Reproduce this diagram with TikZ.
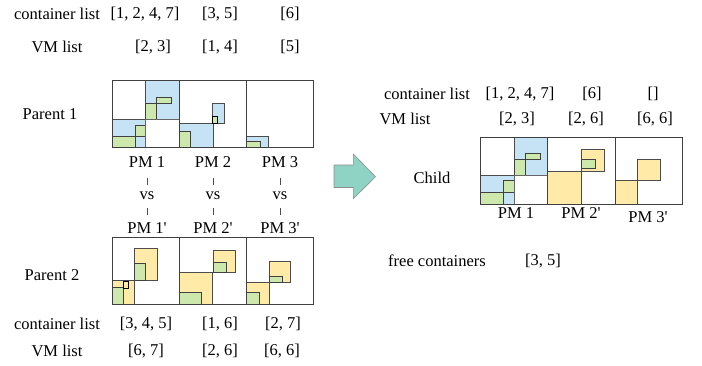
\documentclass[tikz,border=0pt]{standalone}
\usepackage{fontspec}
\setmainfont{Liberation Serif}
\begin{document}
\begin{tikzpicture}[x=1pt,y=-1pt,
  lbl/.style={font=\fontsize{16.5}{18}\selectfont, inner sep=1pt},
  pmbox/.style={draw=black!75, line width=0.9pt},
  vmblue/.style={fill=vmb, draw=black!70, line width=1pt},
  vmyel/.style={fill=vmy, draw=black!70, line width=1pt},
  ctgreen/.style={fill=ctg, draw=black!75, line width=1pt},
  emptycell/.style={fill=white, draw=black!60, line width=1pt},
  vsup/.style={draw=black!70, line width=0.6pt, shorten <=9pt, shorten >=6pt},
  vsdown/.style={draw=black!70, line width=0.6pt, shorten <=7pt, shorten >=6pt},
  bigarrow/.style={fill=arrowfill, draw=black!45, line width=0.6pt}]
\definecolor{vmb}{RGB}{197,227,245}
\definecolor{vmy}{RGB}{255,234,168}
\definecolor{ctg}{RGB}{204,232,172}
\definecolor{arrowfill}{RGB}{143,211,196}
\useasboundingbox[fill=white] (0,0) rectangle (702,365);

% ---------- top lists ----------
\node[lbl] (cl1) at (57,14) {container list};
\node[lbl] (cl1a) at (145,14) {[1, 2, 4, 7]};
\node[lbl] (cl1b) at (220,14) {[3, 5]};
\node[lbl] (cl1c) at (290,14) {[6]};
\node[lbl] (vl1) at (57,47) {VM list};
\node[lbl] (vl1a) at (153,47) {[2, 3]};
\node[lbl] (vl1b) at (220,47) {[1, 4]};
\node[lbl] (vl1c) at (290,47) {[5]};

% ---------- parent 1 ----------
\node[lbl] (p1) at (50,114) {Parent 1};
% PM 1
\draw[vmblue] (112,119.3) rectangle (145.7,147.7);
\draw[ctgreen] (112,136.7) rectangle (135,147.7);
\draw[ctgreen] (135,125.7) rectangle (145.7,136.7);
\draw[vmblue] (145.7,80.5) rectangle (179.3,119.3);
\draw[ctgreen] (145.7,103.3) rectangle (156.7,119.3);
\draw[ctgreen] (156.7,97.7) rectangle (171,103.3);
\draw[emptycell] (145.7,119.3) rectangle (179.3,147.7);
% PM 2
\draw[vmblue] (179.3,123.3) rectangle (213.3,147.7);
\draw[ctgreen] (179.3,131.7) rectangle (190.7,147.7);
\draw[vmblue] (212.7,103.3) rectangle (224.3,123.3);
\draw[ctgreen, draw=black, line width=1.3pt] (212.7,116.7) rectangle (217.3,123.3);
% PM 3
\draw[vmblue] (246.7,136) rectangle (268.3,147.7);
\draw[ctgreen] (246.7,141.7) rectangle (260.7,147.7);
% frames
\draw[pmbox] (112,80) rectangle (179.3,147.7);
\draw[pmbox] (179.3,80) rectangle (246.7,147.7);
\draw[pmbox] (246.7,80) rectangle (313.3,147.7);

% ---------- PM labels and comparisons ----------
\node[lbl] (a1) at (147,162) {PM 1};
\node[lbl] (a2) at (213,162) {PM 2};
\node[lbl] (a3) at (280,162) {PM 3};
\node[lbl] (v1) at (147,196) {vs};
\node[lbl] (v2) at (213,196) {vs};
\node[lbl] (v3) at (280,196) {vs};
\node[lbl] (b1) at (147,228) {PM 1\textquotesingle};
\node[lbl] (b2) at (213,228) {PM 2\textquotesingle};
\node[lbl] (b3) at (280,228) {PM 3\textquotesingle};
\foreach \i in {1,2,3}{
  \draw[vsup] (a\i) -- (v\i);
  \draw[vsdown] (v\i) -- (b\i);
}

% ---------- parent 2 ----------
\node[lbl] (p2) at (52,275) {Parent 2};
% PM 1'
\draw[vmyel] (134.7,248.3) rectangle (157.3,280);
\draw[ctgreen] (134.7,263.3) rectangle (145.7,280);
\draw[vmyel] (112,280.7) rectangle (134.7,304.3);
\draw[ctgreen] (112,287.7) rectangle (123,304.3);
\draw[vmyel, draw=black, line width=1pt] (123,281.7) rectangle (128.7,288);
% PM 2'
\draw[vmyel] (213.3,250.7) rectangle (235.3,272.3);
\draw[ctgreen] (213.3,262.3) rectangle (226.7,272.3);
\draw[vmyel] (179.3,272.3) rectangle (212.7,304.3);
\draw[ctgreen] (179.3,292.7) rectangle (201.7,304.3);
% PM 3'
\draw[vmyel] (269,261) rectangle (290.7,282.7);
\draw[ctgreen] (269,276) rectangle (282.3,282.7);
\draw[vmyel] (246.7,282.7) rectangle (269,304.3);
\draw[ctgreen] (246.7,292.7) rectangle (259.7,304.3);
% frames
\draw[pmbox] (112,237.3) rectangle (179.3,304.3);
\draw[pmbox] (179.3,237.3) rectangle (246.7,304.3);
\draw[pmbox] (246.7,237.3) rectangle (313.3,304.3);

% ---------- bottom lists ----------
\node[lbl] (cl2) at (57,324) {container list};
\node[lbl] (cl2a) at (146,324) {[3, 4, 5]};
\node[lbl] (cl2b) at (220,324) {[1, 6]};
\node[lbl] (cl2c) at (283,324) {[2, 7]};
\node[lbl] (vl2) at (57,351) {VM list};
\node[lbl] (vl2a) at (146,351) {[6, 7]};
\node[lbl] (vl2b) at (220,351) {[2, 6]};
\node[lbl] (vl2c) at (282,351) {[6, 6]};

% ---------- crossover arrow ----------
\draw[bigarrow] (334,165) -- (353.3,165) -- (353.3,154) -- (375.5,176.7)
  -- (353.3,198.7) -- (353.3,187.5) -- (334,187.5) -- cycle;

% ---------- child ----------
\node[lbl] (cl3) at (427,94) {container list};
\node[lbl] (cl3a) at (520,94) {[1, 2, 4, 7]};
\node[lbl] (cl3b) at (592,94) {[6]};
\node[lbl] (cl3c) at (653,94) {[]};
\node[lbl] (vl3) at (405,119) {VM list};
\node[lbl] (vl3a) at (517,119) {[2, 3]};
\node[lbl] (vl3b) at (586,119) {[2, 6]};
\node[lbl] (vl3c) at (655,119) {[6, 6]};
\node[lbl] (ch) at (432,178) {Child};
% PM 1
\draw[vmblue] (514.3,137.3) rectangle (547.7,175.7);
\draw[ctgreen] (514.3,159.3) rectangle (525.7,175.7);
\draw[ctgreen] (525.7,153.3) rectangle (540,159.3);
\draw[vmblue] (480.7,175.7) rectangle (514.3,204);
\draw[ctgreen] (480.7,192.3) rectangle (503.3,204);
\draw[ctgreen] (503.3,180.7) rectangle (514.3,192.3);
\draw[emptycell] (514.3,175.7) rectangle (547.7,204);
% PM 2'
\draw[vmyel] (547.7,171.7) rectangle (581.3,204);
\draw[vmyel] (581.3,149) rectangle (604.7,171.7);
\draw[ctgreen] (581.3,159) rectangle (595.3,168.3);
% PM 3'
\draw[vmyel] (615.7,180.7) rectangle (637.3,204);
\draw[vmyel] (637.3,159.3) rectangle (660,180.7);
% frames
\draw[pmbox] (480.7,137.3) rectangle (547.7,204);
\draw[pmbox] (547.7,137.3) rectangle (615.7,204);
\draw[pmbox] (615.7,137.3) rectangle (682.7,204);
\node[lbl] (c1) at (516,213) {PM 1};
\node[lbl] (c2) at (581,213) {PM 2\textquotesingle};
\node[lbl] (c3) at (648,217) {PM 3\textquotesingle};

% ---------- free containers ----------
\node[lbl] (fc) at (437,261) {free containers};
\node[lbl] (fca) at (543,261) {[3, 5]};
\end{tikzpicture}
\end{document}
